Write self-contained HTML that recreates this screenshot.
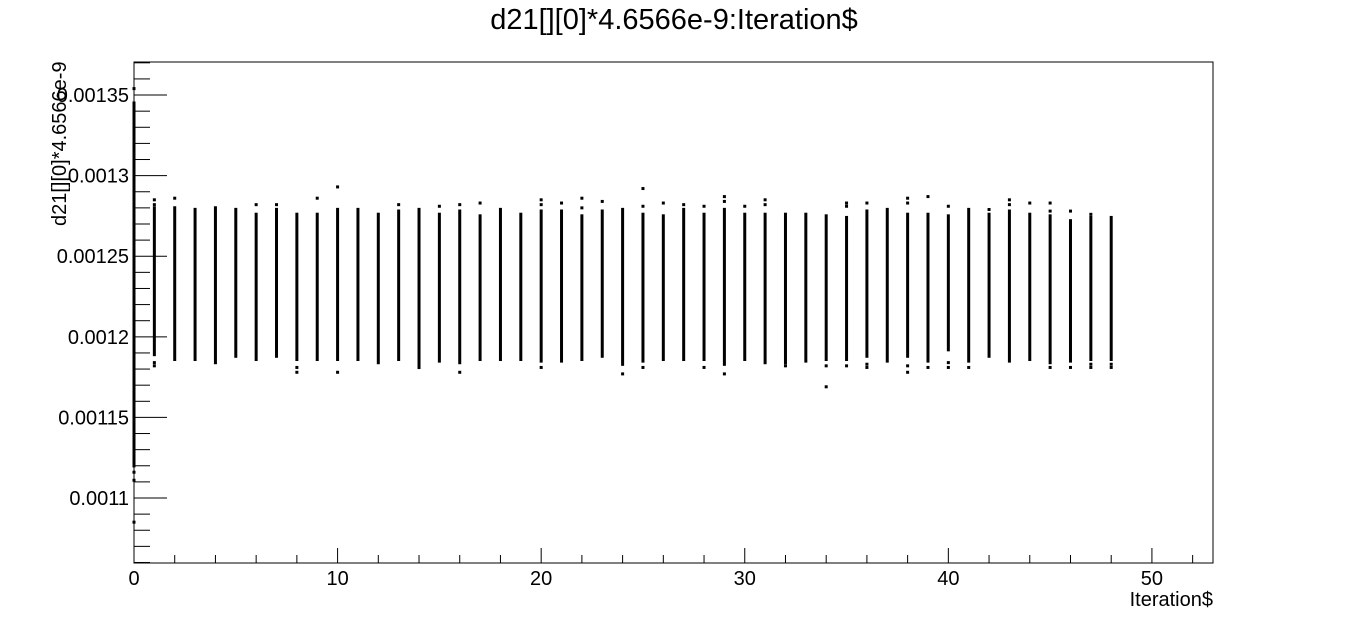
<!DOCTYPE html>
<html><head><meta charset="utf-8"><style>
html,body{margin:0;padding:0;background:#fff;}
svg{display:block;font-family:"Liberation Sans",sans-serif;}
</style></head><body>
<svg id="chart" width="1348" height="627" viewBox="0 0 1348 627">
<rect x="0" y="0" width="1348" height="627" fill="#fff"/>
<text x="674" y="29" font-size="29" text-anchor="middle">d21[][0]*4.6566e-9:Iteration$</text>
<rect x="134" y="62" width="1079" height="501" fill="none" stroke="#000" stroke-width="1"/>
<g id="axes"></g>
<g id="marks"></g>
<text x="1213" y="606" font-size="20" text-anchor="end">Iteration$</text>
<text transform="translate(66,226) rotate(-90)" font-size="20" text-anchor="start">d21[][0]*4.6566e-9</text>
</svg>
<script>
// Data
const iterations = [0,1,2,3,4,5,6,7,8,9,10,11,12,13,14,15,16,17,18,19,20,21,22,23,24,25,26,27,28,29,30,31,32,33,34,35,36,37,38,39,40,41,42,43,44,45,46,47,48];
const barTop = [0.001346,0.001281,0.001281,0.001280,0.001281,0.001280,0.001277,0.001280,0.001277,0.001277,0.001280,0.001280,0.001277,0.001279,0.001280,0.001277,0.001279,0.001276,0.001280,0.001277,0.001279,0.001279,0.001276,0.001279,0.001280,0.001277,0.001276,0.001280,0.001277,0.001280,0.001277,0.001277,0.001277,0.001277,0.001276,0.001275,0.001279,0.001280,0.001277,0.001277,0.001276,0.001280,0.001277,0.001279,0.001277,0.001276,0.001273,0.001275,0.001275];
const barBottom = [0.001119,0.001188,0.001185,0.001185,0.001183,0.001187,0.001185,0.001187,0.001185,0.001185,0.001185,0.001185,0.001183,0.001185,0.001180,0.001184,0.001183,0.001185,0.001185,0.001185,0.001184,0.001184,0.001185,0.001187,0.001182,0.001184,0.001185,0.001185,0.001185,0.001182,0.001185,0.001183,0.001183,0.001184,0.001185,0.001185,0.001187,0.001184,0.001187,0.001184,0.001191,0.001184,0.001187,0.001184,0.001185,0.001183,0.001184,0.001185,0.001185];
const extraX = [0,0,0,0,1,1,1,1,2,6,7,8,8,9,10,10,13,15,16,16,17,20,20,20,21,22,22,23,24,25,25,25,26,27,28,28,29,29,29,30,31,31,32,34,34,35,35,35,36,36,36,38,38,38,38,39,39,40,40,40,41,42,43,43,44,45,45,45,46,46,47,47,47,48,48];
const extraY = [0.001354,0.001116,0.001111,0.001085,0.001285,0.001282,0.001184,0.001182,0.001286,0.001282,0.001282,0.001181,0.001178,0.001286,0.001293,0.001178,0.001282,0.001281,0.001282,0.001178,0.001283,0.001285,0.001282,0.001181,0.001283,0.001286,0.001280,0.001284,0.001177,0.001292,0.001281,0.001181,0.001283,0.001282,0.001281,0.001181,0.001287,0.001284,0.001177,0.001281,0.001285,0.001282,0.001182,0.001182,0.001169,0.001283,0.001281,0.001182,0.001283,0.001183,0.001181,0.001286,0.001283,0.001182,0.001178,0.001287,0.001181,0.001281,0.001184,0.001181,0.001181,0.001279,0.001285,0.001282,0.001283,0.001283,0.001278,0.001181,0.001278,0.001181,0.001276,0.001183,0.001181,0.001183,0.001181];
const xTickLabels = [0,10,20,30,40,50];
const yTickLabels = ["0.0011","0.00115","0.0012","0.00125","0.0013","0.00135"];
const yTickValues = [0.0011,0.00115,0.0012,0.00125,0.0013,0.00135];

const X0=134, X1=1213, Y0=563, Y1=62;
const xMin=0, xMax=53, yMin=0.00105968, yMax=0.0013705;
function sx(v){return X0+(v-xMin)/(xMax-xMin)*(X1-X0);}
function sy(v){return Y0-(v-yMin)/(yMax-yMin)*(Y0-Y1);}
const NS="http://www.w3.org/2000/svg";
const axes=document.getElementById('axes'), marks=document.getElementById('marks');
function mk(tag,attrs,parent){const e=document.createElementNS(NS,tag);for(const k in attrs)e.setAttribute(k,attrs[k]);parent.appendChild(e);return e;}

for(let v=0; v<=52; v+=2){
  const major=(v%10===0);
  const t=mk('line',{x1:sx(v),x2:sx(v),y1:Y0,y2:Y0-(major?15:8),stroke:'#000','stroke-width':1},axes);
  
  
}
xTickLabels.forEach(v=>{
  const t=mk('text',{x:sx(v),y:585,'font-size':20,'text-anchor':'middle'},axes);
  t.textContent=v;
  
  
});
for(let i=-5;i<=27;i++){
  const v=0.0011+i*0.00001;
  if(v<yMin||v>yMax)continue;
  const major=(((i%5)+5)%5===0);
  const t=mk('line',{x1:X0,x2:X0+(major?33:16),y1:sy(v),y2:sy(v),stroke:'#000','stroke-width':1},axes);
  
  
}
yTickValues.forEach((v,i)=>{
  const t=mk('text',{x:129,y:sy(v)+7,'font-size':20,'text-anchor':'end'},axes);
  t.textContent=yTickLabels[i];
  
  
});
iterations.forEach((it,i)=>{
  const y1=sy(barTop[i]), y2=sy(barBottom[i]);
  const r=mk('rect',{x:sx(it)-1.5,y:y1,width:3,height:y2-y1,fill:'#000'},marks);
  
  
});
extraX.forEach((it,i)=>{
  const r=mk('rect',{x:sx(it)-1.5,y:sy(extraY[i])-1.5,width:3,height:3,fill:'#000'},marks);
  
  
});
</script>
</body></html>
